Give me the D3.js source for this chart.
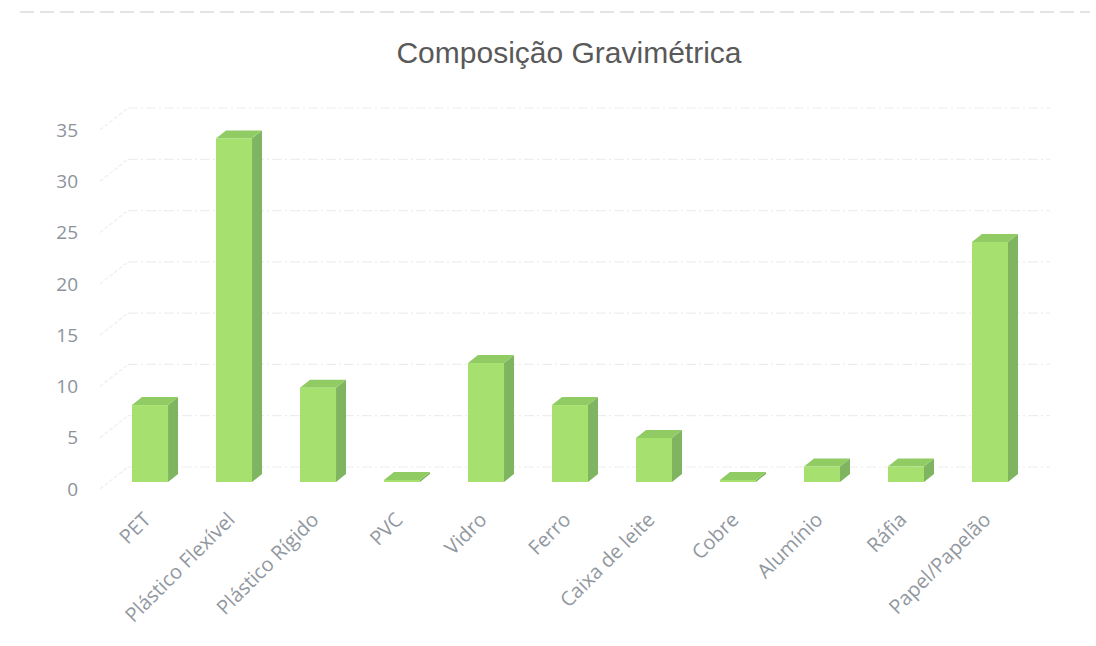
<!DOCTYPE html>
<html>
<head>
<meta charset="utf-8">
<script src="https://cdn.jsdelivr.net/npm/d3@7"></script>
<style>
    body { margin: 0; background: #ffffff; }
    svg { display: block; }
</style>
</head>
<body>
<div id="chart"></div>
<script>
// chart data
var vCategories = ["PET", "Plástico Flexível", "Plástico Rígido", "PVC", "Vidro", "Ferro",
    "Caixa de leite", "Cobre", "Alumínio", "Ráfia", "Papel/Papelão"];
var vValues = [7.5, 33.5, 9.2, 0.2, 11.6, 7.5, 4.3, 0.2, 1.5, 1.5, 23.4];
var vTicks = [0, 5, 10, 15, 20, 25, 30, 35];
var vTitle = "Composição Gravimétrica";

(function (window, document) {
    var vWidth = 1096, vHeight = 646;

    // offsets of the 3d box: floor depth and bar depth
    var vWall = { dx: 28, dy: -22 };
    var vBarPlane = { dx: 9, dy: -7 };
    var vBarDepth = { dx: 10, dy: -8 };

    var svg = d3.select("#chart")
        .append("svg")
        .attr("width", vWidth)
        .attr("height", vHeight);

    // scan edge at the top
    svg.append("line")
        .attr("x1", 20).attr("x2", 1090)
        .attr("y1", 12).attr("y2", 12)
        .attr("stroke", "#dcdcdc")
        .attr("stroke-width", 1.5)
        .attr("stroke-dasharray", "14,6");

    // title
    svg.append("text")
        .attr("x", 569)
        .attr("y", 63)
        .attr("text-anchor", "middle")
        .style("font-family", "'Liberation Sans', Arial, sans-serif")
        .style("font-size", "30px")
        .style("fill", "#595959")
        .text(vTitle);

    // X scale on the plane of the bars
    var vXAxis = d3.scaleBand()
        .domain(vCategories)
        .range([108, 1032])
        .paddingInner(0.571)
        .paddingOuter(0.2857);

    // Y scale on the front edge of the floor (where the labels sit)
    var vYAxis = d3.scaleLinear()
        .domain([0, 35])
        .range([489, 130]);

    var vLeft = 100, vRight = 1022;

    // gridlines: side wall diagonal + back wall line
    var vGrid = svg.append("g");
    vGrid.selectAll(".side")
        .data(vTicks)
        .enter()
        .append("line")
        .attr("x1", vLeft)
        .attr("y1", function (d) { return vYAxis(d); })
        .attr("x2", vLeft + vWall.dx)
        .attr("y2", function (d) { return vYAxis(d) + vWall.dy; })
        .attr("stroke", "#eeeeee")
        .attr("stroke-width", 1.2)
        .attr("stroke-dasharray", "4,2");
    vGrid.selectAll(".back")
        .data(vTicks)
        .enter()
        .append("line")
        .attr("x1", vLeft + vWall.dx)
        .attr("x2", vRight + vWall.dx)
        .attr("y1", function (d) { return vYAxis(d) + vWall.dy; })
        .attr("y2", function (d) { return vYAxis(d) + vWall.dy; })
        .attr("stroke", "#eeeeee")
        .attr("stroke-width", 1.2)
        .attr("stroke-dasharray", "10,3,2,3");

    // y labels
    svg.append("g")
        .selectAll("text")
        .data(vTicks)
        .enter()
        .append("text")
        .attr("x", 78)
        .attr("y", function (d) { return vYAxis(d); })
        .attr("dy", "0.35em")
        .attr("text-anchor", "end")
        .style("font-family", "'Open Sans', sans-serif")
        .style("font-size", "19px")
        .style("fill", "#8d939b")
        .text(function (d) { return d; });

    // bars, each made of front, side and top faces
    var vBars = svg.append("g")
        .selectAll("g")
        .data(vCategories.map(function (c, i) { return { name: c, value: vValues[i] }; }))
        .enter()
        .append("g");

    function barY(v) { return vYAxis(v) + vBarPlane.dy; }
    var bw = vXAxis.bandwidth();

    vBars.append("path")
        .attr("fill", "#7fb460")
        .attr("d", function (d) {
            var x = vXAxis(d.name) + bw, y0 = barY(0), y1 = barY(d.value);
            return "M" + x + "," + y0 + "L" + x + "," + y1 +
                "L" + (x + vBarDepth.dx) + "," + (y1 + vBarDepth.dy) +
                "L" + (x + vBarDepth.dx) + "," + (y0 + vBarDepth.dy) + "Z";
        });
    vBars.append("path")
        .attr("fill", "#90cb63")
        .attr("d", function (d) {
            var x = vXAxis(d.name), y1 = barY(d.value);
            return "M" + x + "," + y1 + "L" + (x + bw) + "," + y1 +
                "L" + (x + bw + vBarDepth.dx) + "," + (y1 + vBarDepth.dy) +
                "L" + (x + vBarDepth.dx) + "," + (y1 + vBarDepth.dy) + "Z";
        });
    vBars.append("rect")
        .attr("fill", "#a6e170")
        .attr("x", function (d) { return vXAxis(d.name); })
        .attr("y", function (d) { return barY(d.value); })
        .attr("width", bw)
        .attr("height", function (d) { return barY(0) - barY(d.value); });

    // x labels, rotated
    svg.append("g")
        .selectAll("text")
        .data(vCategories)
        .enter()
        .append("text")
        .attr("transform", function (d) {
            return "translate(" + (vXAxis(d) + bw / 2 + 2) + ",521) rotate(-45)";
        })
        .attr("text-anchor", "end")
        .style("font-family", "'Open Sans', sans-serif")
        .style("font-size", "20px")
        .style("fill", "#9298a0")
        .text(function (d) { return d; });
})(window, document);
</script>
</body>
</html>
